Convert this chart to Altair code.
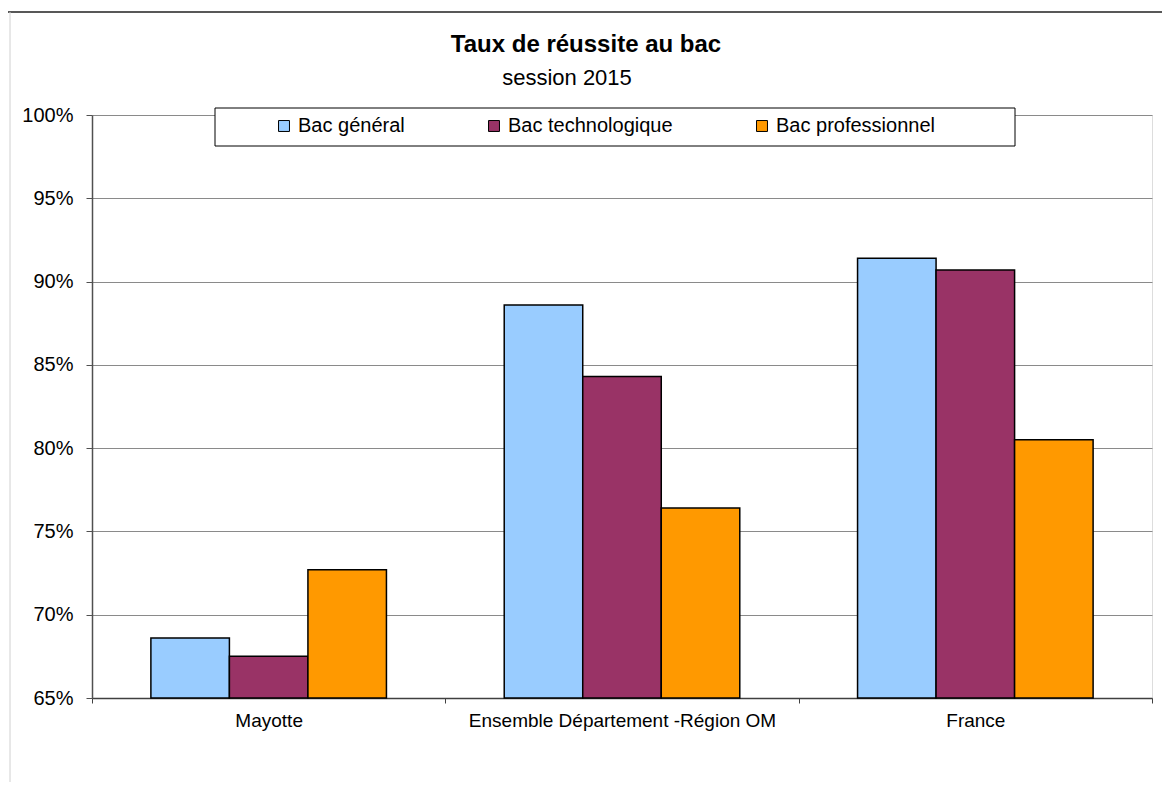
import altair as alt
import pandas as pd

# ---- data ----
categories = ["Mayotte", "Ensemble Département -Région OM", "France"]
series = ["Bac général", "Bac technologique", "Bac professionnel"]
bac_general = [0.686, 0.886, 0.914]
bac_techno = [0.675, 0.843, 0.907]
bac_pro = [0.727, 0.764, 0.805]
colors = ["#99CCFF", "#993366", "#FF9900"]
y_ticks = [0.65, 0.70, 0.75, 0.80, 0.85, 0.90, 0.95, 1.00]
title_text = "Taux de réussite au bac"
subtitle_text = "session 2015"

rows = []
for s, vals in zip(series, [bac_general, bac_techno, bac_pro]):
    for c, v in zip(categories, vals):
        rows.append({"categorie": c, "serie": s, "taux": v})
df = pd.DataFrame(rows)

FONT = "Liberation Sans"

bars = alt.Chart(df).mark_bar(stroke="black", strokeWidth=1.5).encode(
    x=alt.X(
        "categorie:N",
        sort=categories,
        scale=alt.Scale(paddingInner=0, paddingOuter=0),
        axis=alt.Axis(
            title=None, labelAngle=0, tickBand="extent", grid=False,
            domainColor="#404040", domainWidth=1.5, tickColor="#404040",
            tickSize=5, labelFontSize=19, labelFont=FONT, labelColor="black",
            labelPadding=8, labelLimit=500,
        ),
    ),
    xOffset=alt.XOffset(
        "serie:N", sort=series,
        scale=alt.Scale(paddingInner=0, paddingOuter=0.75),
    ),
    y=alt.Y(
        "taux:Q",
        scale=alt.Scale(domain=[0.65, 1.0]),
        axis=alt.Axis(
            title=None, values=y_ticks, format=".0%", grid=True,
            gridColor="#8a8a8a", gridWidth=1,
            domainColor="#505050", domainWidth=1.5, tickColor="#505050",
            tickSize=6, labelFontSize=20, labelFont=FONT, labelColor="black",
            labelPadding=13,
        ),
    ),
    y2=alt.datum(0.65),
    fill=alt.Fill(
        "serie:N", sort=series,
        scale=alt.Scale(domain=series, range=colors),
        legend=alt.Legend(
            title=None, orient="none", legendX=182, legendY=1,
            direction="horizontal", columns=3, columnPadding=79,
            symbolType="square", symbolSize=120, symbolStrokeColor="black",
            symbolStrokeWidth=1, symbolOpacity=1,
            labelFontSize=20, labelFont=FONT, labelColor="black",
            labelOffset=4, padding=0, labelLimit=400,
        ),
    ),
)

deco = pd.DataFrame({"k": [0]})
legend_box = alt.Chart(deco).mark_rect(fill="white", stroke="black", strokeWidth=1).encode(
    x=alt.value(123), x2=alt.value(923), y=alt.value(-7), y2=alt.value(31)
)
top_line = alt.Chart(deco).mark_rule(color="#202020", strokeWidth=1.5).encode(
    x=alt.value(-84), x2=alt.value(1070), y=alt.value(-103)
)
left_line = alt.Chart(deco).mark_rule(color="#d0d0d0", strokeWidth=1).encode(
    x=alt.value(-82), y=alt.value(-103), y2=alt.value(680)
)
subtitle = alt.Chart(deco).mark_text(
    font=FONT, fontSize=22, color="black", align="center", baseline="alphabetic"
).encode(x=alt.value(475), y=alt.value(-30), text=alt.value(subtitle_text))

chart = alt.layer(bars, legend_box, top_line, left_line, subtitle).properties(
    width=1060,
    height=583,
    autosize=alt.AutoSizeParams(type="none"),
    padding={"left": 84, "top": 107, "right": 10, "bottom": 84},
    title=alt.TitleParams(
        text=title_text,
        font=FONT, fontSize=24, fontWeight="bold", color="black",
        anchor="middle", dx=-36, offset=-46,
    ),
).configure_view(stroke="#A0A0A0", strokeWidth=1).configure(background="white")

chart.save("out.html", embed_options={"renderer": "svg", "actions": False})
